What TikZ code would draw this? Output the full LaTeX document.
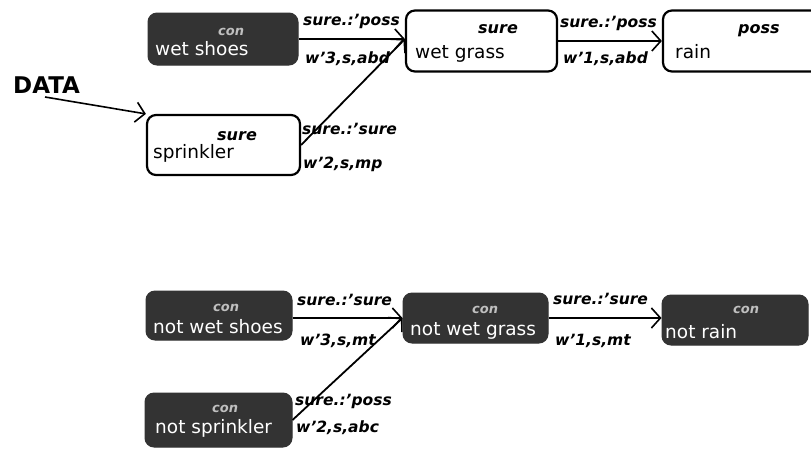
\documentclass[tikz,border=0pt]{standalone}
\usepackage{fontspec}
\setmainfont{DejaVu Sans}
\usetikzlibrary{arrows.meta}
\definecolor{boxdark}{HTML}{333333}
\begin{document}
\begin{tikzpicture}[x=1pt,y=-1pt,
  lightbox/.style={draw=black, line width=2.2pt, rounded corners=9pt, fill=white, inner sep=0pt},
  darkbox/.style={draw=boxdark, line width=1pt, rounded corners=9pt, fill=boxdark, inner sep=0pt},
  maintxt/.style={anchor=base west, inner sep=0pt, font=\fontsize{18.5}{18.5}\selectfont},
  maindark/.style={maintxt, text=white},
  statetxt/.style={anchor=base west, inner sep=0pt, font=\fontsize{16}{16}\selectfont\bfseries\itshape},
  contxt/.style={anchor=base west, inner sep=0pt, text=black!25, font=\fontsize{13}{13}\selectfont\bfseries\itshape},
  edgetxt/.style={anchor=base west, inner sep=0pt, font=\fontsize{15.5}{15.5}\selectfont\bfseries\itshape},
  conn/.style={draw=black, line width=1.8pt, -{Straight Barb[length=9pt,width=20pt,line width=1.6pt]}},
]
\useasboundingbox (0,0) rectangle (811,451);

% top row boxes
\node[darkbox, minimum width=150pt, minimum height=52pt] (wetshoes) at (223,39) {};
\node[lightbox, minimum width=151pt, minimum height=61pt] (wetgrass) at (481.5,41) {};
\node[lightbox, minimum width=160pt, minimum height=61pt] (rain) at (743,41) {};
\node[lightbox, minimum width=153pt, minimum height=60pt] (sprinkler) at (223.5,145) {};

% bottom row boxes
\node[darkbox, minimum width=146pt, minimum height=49pt] (notwetshoes) at (219,315.5) {};
\node[darkbox, minimum width=145pt, minimum height=50pt] (notwetgrass) at (475.5,318) {};
\node[darkbox, minimum width=146pt, minimum height=50pt] (notrain) at (735,320) {};
\node[darkbox, minimum width=147pt, minimum height=54pt] (notsprinkler) at (218.5,420) {};

% box texts
\node[contxt] (t1a) at (218,35) {con};
\node[maindark] (t1b) at (155,55) {wet shoes};
\node[statetxt] (t2a) at (478,33) {sure};
\node[maintxt] (t2b) at (415,58) {wet grass};
\node[statetxt] (t3a) at (738,33) {poss};
\node[maintxt] (t3b) at (675,58) {rain};
\node[statetxt] (t4a) at (217,140) {sure};
\node[maintxt] (t4b) at (153,158) {sprinkler};

\node[contxt] (t5a) at (213,311) {con};
\node[maindark] (t5b) at (153,333) {not wet shoes};
\node[contxt] (t6a) at (472,313) {con};
\node[maindark] (t6b) at (410,335) {not wet grass};
\node[contxt] (t7a) at (733,313) {con};
\node[maindark] (t7b) at (665,338) {not rain};
\node[contxt] (t8a) at (212,412) {con};
\node[maindark] (t8b) at (155,433) {not sprinkler};

% DATA
\node[anchor=base west, inner sep=0pt, font=\fontsize{23}{23}\selectfont\bfseries] (data) at (13,93) {DATA};
\coordinate (datatail) at (45,97);
\draw[conn, line width=1.6pt] (datatail) -- (sprinkler.north west);

% connectors top
\draw[conn] (wetshoes.east) -- (wetgrass.west |- wetshoes.east);
\draw[conn] (sprinkler.east) -- (wetgrass.west |- wetshoes.east);
\draw[conn] (wetgrass.east) -- (rain.west);

% connectors bottom
\draw[conn] (notwetshoes.east |- notwetgrass.west) -- (notwetgrass.west);
\draw[conn] (notsprinkler.east) -- (notwetgrass.west);
\draw[conn] (notwetgrass.east) -- (notrain.west |- notwetgrass.east);

% edge labels top
\node[edgetxt] (e1a) at (303,25) {sure.:'poss};
\node[edgetxt] (e1b) at (305,63) {w'3,s,abd};
\node[edgetxt] (e2a) at (302,134) {sure.:'sure};
\node[edgetxt] (e2b) at (303,168) {w'2,s,mp};
\node[edgetxt] (e3a) at (560,27) {sure.:'poss};
\node[edgetxt] (e3b) at (563,63) {w'1,s,abd};

% edge labels bottom
\node[edgetxt] (e4a) at (297,305) {sure.:'sure};
\node[edgetxt] (e4b) at (300,345) {w'3,s,mt};
\node[edgetxt] (e5a) at (295,405) {sure.:'poss};
\node[edgetxt] (e5b) at (296,432) {w'2,s,abc};
\node[edgetxt] (e6a) at (553,304) {sure.:'sure};
\node[edgetxt] (e6b) at (555,345) {w'1,s,mt};
\end{tikzpicture}
\end{document}
